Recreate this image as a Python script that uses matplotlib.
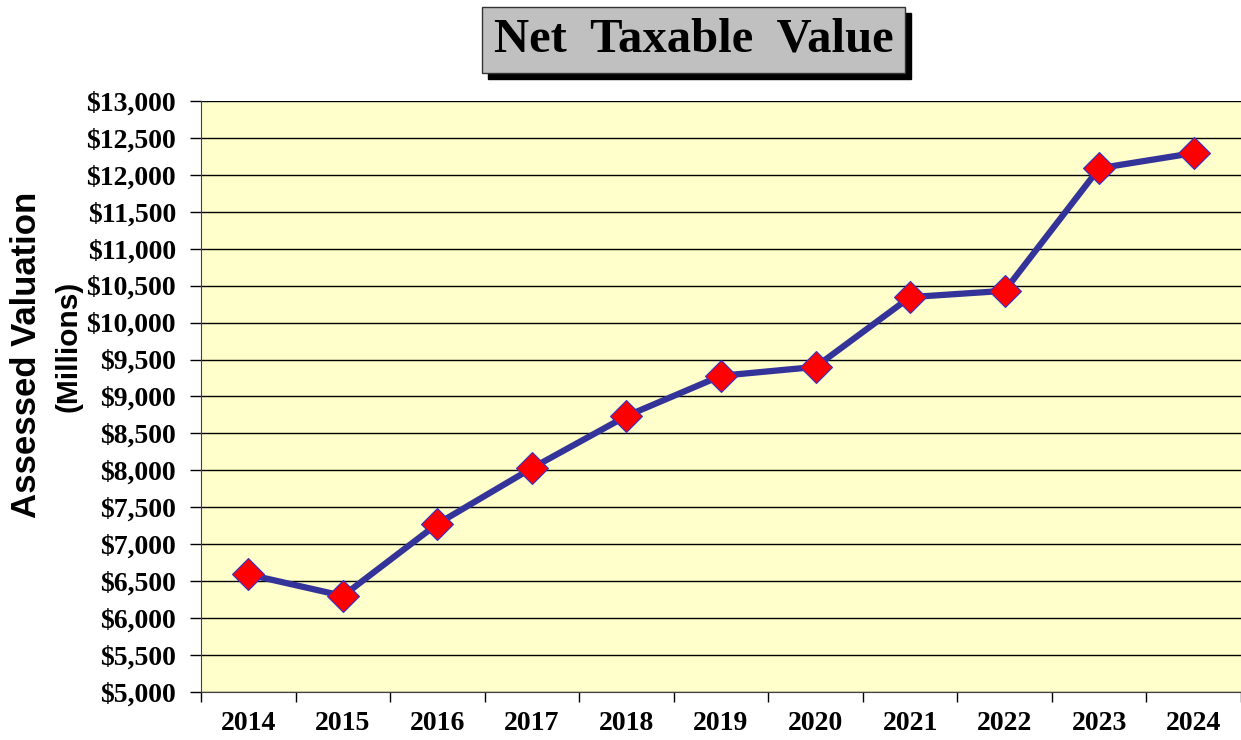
import matplotlib.pyplot as plt
from matplotlib.patches import Rectangle
from matplotlib.ticker import FuncFormatter, MultipleLocator

# Net taxable value, millions of dollars
years = ['2014', '2015', '2016', '2017', '2018', '2019', '2020', '2021', '2022', '2023', '2024']
values = [6590, 6300, 7275, 8030, 8735, 9280, 9400, 10345, 10430, 12090, 12295]

fig = plt.figure(figsize=(12.41, 7.40), dpi=100)
ax = fig.add_axes([0.162, 0.065, 0.838, 0.7985])
ax.set_facecolor('#FFFFCC')

x = list(range(len(years)))
ax.plot(x, values, color='#333399', linewidth=4.5, zorder=3,
        marker='D', markersize=16, markerfacecolor='#FF0000',
        markeredgecolor='#3333CC', markeredgewidth=0.8)

ax.set_xlim(-0.5, len(years) - 0.5)
ax.set_ylim(5000, 13000)
ax.yaxis.set_major_locator(MultipleLocator(500))
ax.yaxis.set_major_formatter(FuncFormatter(lambda v, p: f'${v:,.0f}'))
ax.grid(axis='y', color='black', linewidth=1)
ax.set_axisbelow(True)

ax.set_xticks(x)
ax.set_xticklabels(years)
ax.set_xticks([i - 0.5 for i in range(len(years) + 1)], minor=True)
ax.tick_params(axis='x', which='major', length=0, pad=14)
ax.tick_params(axis='x', which='minor', length=7, width=1, direction='out')
ax.tick_params(axis='y', length=8, width=1, direction='out', pad=10)

for lab in ax.get_xticklabels():
    lab.set_fontfamily('Liberation Serif')
    lab.set_fontweight('bold')
    lab.set_fontsize(20)
for lab in ax.get_yticklabels():
    lab.set_fontfamily('Liberation Serif')
    lab.set_fontweight('bold')
    lab.set_fontsize(20)

for s in ['top', 'right']:
    ax.spines[s].set_visible(False)
ax.spines['left'].set_color('#404040')
ax.spines['bottom'].set_color('#404040')

# y axis label, two lines
fig.text(0.021, 0.52, 'Assessed Valuation', rotation=90, ha='center', va='center',
         fontfamily='Liberation Sans', fontweight='bold', fontsize=25)
fig.text(0.055, 0.532, '(Millions)', rotation=90, ha='center', va='center',
         fontfamily='Liberation Sans', fontweight='bold', fontsize=21.5)

# title box with drop shadow
bx, by, bw, bh = 482 / 1241, 1 - 73 / 740, 423 / 1241, 66 / 740
fig.patches.append(Rectangle((bx + 6 / 1241, by - 6 / 740), bw, bh, transform=fig.transFigure,
                             facecolor='black', edgecolor='black', zorder=1))
fig.patches.append(Rectangle((bx, by), bw, bh, transform=fig.transFigure,
                             facecolor='#C0C0C0', edgecolor='#333333', linewidth=1, zorder=2))
fig.text(bx + bw / 2, by + bh / 2, 'Net  Taxable  Value', ha='center', va='center',
         fontfamily='Liberation Serif', fontweight='bold', fontsize=35, zorder=3)

fig.savefig('out.png', dpi=100)
